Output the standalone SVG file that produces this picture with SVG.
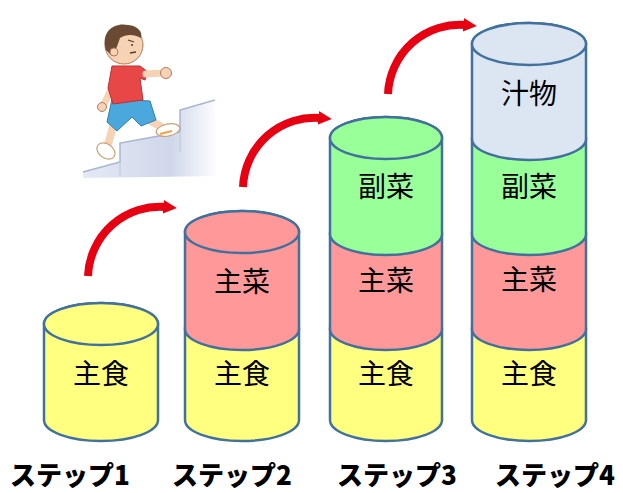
<svg xmlns="http://www.w3.org/2000/svg" width="623" height="493" viewBox="0 0 623 493">
  <style>
    .seg { stroke: #41719c; stroke-width: 2.5; stroke-linejoin: round; }
    .y { fill: #ffff80; }
    .r { fill: #ff9999; }
    .g { fill: #99ff99; }
    .b { fill: #dce6f2; }
    .lbl { font-family: "Noto Sans CJK JP", "Noto Sans", sans-serif; font-size: 28px; fill: #000; text-anchor: middle; }
    .step { font-family: "Noto Sans CJK JP", "Noto Sans", sans-serif; font-size: 26px; font-weight: 900; fill: #000; text-anchor: middle; }
    .arc { fill: none; stroke: #e60012; stroke-width: 8; marker-end: url(#head); }
    .skin { fill: #f7d3b5; stroke: #b07a5a; stroke-width: 1; }
  </style>
  <defs>
    <marker id="head" viewBox="0 0 10 10" refX="2" refY="5" markerWidth="1.7" markerHeight="1.9" orient="auto" markerUnits="strokeWidth">
      <path d="M0,0 L10,5 L0,10 Z" fill="#e60012"/>
    </marker>
    <linearGradient id="stairFill" x1="0" y1="0" x2="1" y2="0">
      <stop offset="0" stop-color="#e4e9f4"/>
      <stop offset="0.65" stop-color="#cfd7ea"/>
      <stop offset="1" stop-color="#ffffff"/>
    </linearGradient>
  </defs>

  <rect width="623" height="493" fill="#ffffff"/>

  <!-- boy climbing the stairs -->
  <g id="climber">
    <path d="M83,172 L120,162 L120,143 L180,132 L180,110 L215,100 L218,176 L83,178 Z" fill="url(#stairFill)"/>
    <path d="M83,172 L120,162 L120,143 L180,132 L180,110 L215,100" fill="none" stroke="#a9b5cf" stroke-width="1.5"/>
    <path d="M120,162 L120,176 M180,132 L180,152" fill="none" stroke="#bcc6dc" stroke-width="1"/>
    <!-- legs -->
    <path d="M115,120 L108,144" stroke="#f7d3b5" stroke-width="8" stroke-linecap="round"/>
    <path d="M145,118 L160,126" stroke="#f7d3b5" stroke-width="8" stroke-linecap="round"/>
    <!-- shoes -->
    <ellipse cx="106" cy="151" rx="10" ry="7" transform="rotate(35 106 151)" fill="#ffffff" stroke="#c9a27a" stroke-width="1.2"/>
    <ellipse cx="168" cy="130" rx="12" ry="6" transform="rotate(-12 168 130)" fill="#ffffff" stroke="#c9a27a" stroke-width="1.2"/>
    <path d="M160,134 L172,131" stroke="#f5a142" stroke-width="2"/>
    <!-- back arm -->
    <path d="M115,82 L104,104" stroke="#f7d3b5" stroke-width="7" stroke-linecap="round"/>
    <circle cx="102" cy="107" r="4.5" class="skin"/>
    <!-- shorts -->
    <path d="M112,99 L150,101 L156,120 L141,126 L132,117 L117,131 L107,122 Z" fill="#4aa8dc" stroke="#2f7fb0" stroke-width="1"/>
    <!-- shirt -->
    <path d="M112,66 L140,66 L148,72 L145,80 L140,78 L143,100 L113,104 L108,88 Z" fill="#e84747" stroke="#b83030" stroke-width="1"/>
    <!-- front arm -->
    <path d="M146,74 L163,73" stroke="#f7d3b5" stroke-width="7" stroke-linecap="round"/>
    <circle cx="166" cy="73" r="5.5" class="skin"/>
    <!-- head -->
    <circle cx="124" cy="45" r="19" class="skin"/>
    <path d="M106,50 C100,30 116,22 128,25 C138,26 143,32 141,38 C134,34 126,34 120,38 C118,44 116,50 112,56 Z" fill="#6b4a33"/>
    <circle cx="114" cy="52" r="4" class="skin"/>
    <path d="M128,40 L134,42 M131,45 L133,45 M130,53 L136,52" stroke="#5a3a28" stroke-width="1.3" fill="none"/>
  </g>

  <!-- step 1 -->
  <g id="step1">
    <path class="seg y" d="M44,324 L44,420 A57,21 0 0 0 158,420 L158,324 A57,21 0 0 0 44,324 Z"/>
    <ellipse class="seg y" cx="101" cy="324" rx="57" ry="21"/>
    <text class="lbl" x="101" y="384">主食</text>
  </g>

  <!-- step 2 -->
  <g id="step2">
    <path class="seg y" d="M185,329 L185,420 A57,21 0 0 0 299,420 L299,329 A57,21 0 0 0 185,329 Z"/>
    <path class="seg r" d="M185,232 L185,329 A57,21 0 0 0 299,329 L299,232 A57,21 0 0 0 185,232 Z"/>
    <ellipse class="seg r" cx="242" cy="232" rx="57" ry="21"/>
    <text class="lbl" x="242" y="384">主食</text>
    <text class="lbl" x="242" y="292">主菜</text>
  </g>

  <!-- step 3 -->
  <g id="step3">
    <path class="seg y" d="M330,329 L330,420 A56,21 0 0 0 442,420 L442,329 A56,21 0 0 0 330,329 Z"/>
    <path class="seg r" d="M330,234 L330,329 A56,21 0 0 0 442,329 L442,234 A56,21 0 0 0 330,234 Z"/>
    <path class="seg g" d="M330,138 L330,234 A56,21 0 0 0 442,234 L442,138 A56,21 0 0 0 330,138 Z"/>
    <ellipse class="seg g" cx="386" cy="138" rx="56" ry="21"/>
    <text class="lbl" x="386" y="384">主食</text>
    <text class="lbl" x="386" y="291">主菜</text>
    <text class="lbl" x="386" y="197">副菜</text>
  </g>

  <!-- step 4 -->
  <g id="step4">
    <path class="seg y" d="M472,329 L472,420 A57,21 0 0 0 586,420 L586,329 A57,21 0 0 0 472,329 Z"/>
    <path class="seg r" d="M472,234 L472,329 A57,21 0 0 0 586,329 L586,234 A57,21 0 0 0 472,234 Z"/>
    <path class="seg g" d="M472,139 L472,234 A57,21 0 0 0 586,234 L586,139 A57,21 0 0 0 472,139 Z"/>
    <path class="seg b" d="M472,44 L472,139 A57,21 0 0 0 586,139 L586,44 A57,21 0 0 0 472,44 Z"/>
    <ellipse class="seg b" cx="529" cy="44" rx="57" ry="21"/>
    <text class="lbl" x="529" y="384">主食</text>
    <text class="lbl" x="529" y="290">主菜</text>
    <text class="lbl" x="529" y="197">副菜</text>
    <text class="lbl" x="529" y="104">汁物</text>
  </g>

  <!-- arrows between steps -->
  <g id="connectors">
    <path class="arc" d="M88,276 A72,72 0 0 1 166,207"/>
    <path class="arc" d="M243,187 A72,72 0 0 1 321,118"/>
    <path class="arc" d="M388,94 A72,72 0 0 1 466,25"/>
  </g>

  <!-- step captions -->
  <g id="captions">
    <text class="step" x="70" y="485">ステップ1</text>
    <text class="step" x="232" y="485">ステップ2</text>
    <text class="step" x="397" y="485">ステップ3</text>
    <text class="step" x="555" y="485">ステップ4</text>
  </g>
</svg>
